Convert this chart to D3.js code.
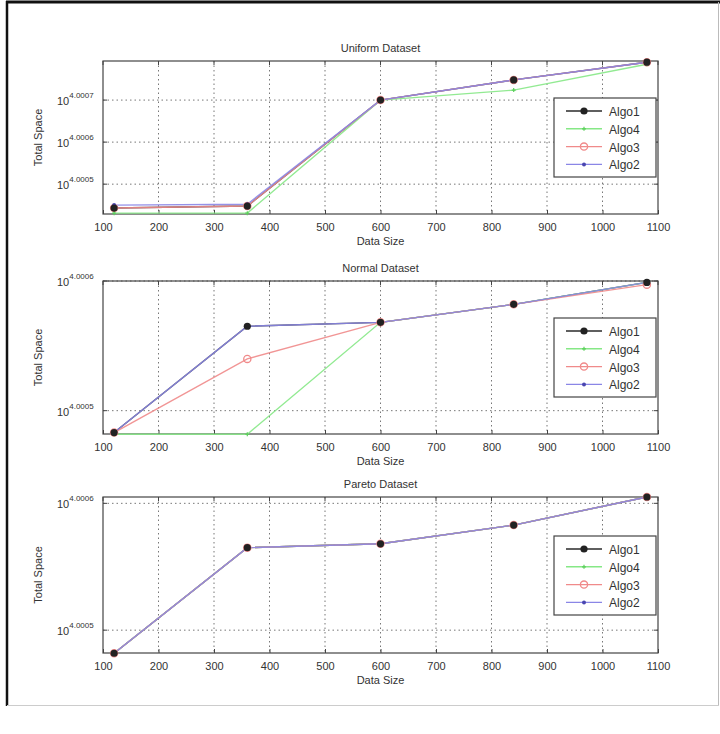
<!DOCTYPE html>
<html><head><meta charset="utf-8">
<script src="https://cdn.jsdelivr.net/npm/d3@7"></script>
<style>body{margin:0;background:#fff}svg{display:block}text{font-family:"Liberation Sans",Arial,sans-serif;fill:#333}</style>
</head><body><div id="c"></div>
<script>
// ---------- data ----------
const dataSizes = [120, 360, 600, 840, 1080];
const xTicks = [100,200,300,400,500,600,700,800,900,1000,1100];
const seriesNames = ["Algo1","Algo4","Algo3","Algo2"];
const panelTitles = ["Uniform Dataset","Normal Dataset","Pareto Dataset"];

// Uniform dataset (Total Space)
const uniformAlgo1 = [10010.21, 10010.32, 10016.13, 10017.24, 10018.21];
const uniformAlgo4 = [10009.93, 10009.93, 10016.13, 10016.68, 10018.10];
const uniformAlgo3 = [10010.21, 10010.32, 10016.13, 10017.24, 10018.21];
const uniformAlgo2 = [10010.37, 10010.42, 10016.13, 10017.24, 10018.21];
// Normal dataset
const normalAlgo1 = [10011.13, 10013.02, 10013.09, 10013.41, 10013.80];
const normalAlgo4 = [10011.10, 10011.10, 10013.09, 10013.41, 10013.80];
const normalAlgo3 = [10011.13, 10012.44, 10013.09, 10013.41, 10013.76];
const normalAlgo2 = [10011.13, 10013.02, 10013.09, 10013.41, 10013.80];
// Pareto dataset
const paretoAlgo1 = [10011.10, 10013.02, 10013.09, 10013.43, 10013.94];
const paretoAlgo4 = [10011.10, 10013.02, 10013.09, 10013.43, 10013.94];
const paretoAlgo3 = [10011.10, 10013.02, 10013.09, 10013.43, 10013.94];
const paretoAlgo2 = [10011.10, 10013.02, 10013.09, 10013.43, 10013.94];

// y tick exponents (labels 10^exp) and y-domain exponents per panel
const uniformYTicks = ["4.0005","4.0006","4.0007"];
const normalYTicks = ["4.0005","4.0006"];
const paretoYTicks = ["4.0005","4.0006"];
const uniformYDomainExp = [4.000429, 4.000793];
const normalYDomainExp = [4.000482, 4.0006];
const paretoYDomainExp = [4.000482, 4.000605];

// ---------- layout ----------
const W = 720, H = 734;
const L = 103, R = 658;
const panels = [
  {title: panelTitles[0], top: 61, bottom: 214, series: [uniformAlgo1, uniformAlgo4, uniformAlgo3, uniformAlgo2], ticks: uniformYTicks, dom: uniformYDomainExp, legTop: 98},
  {title: panelTitles[1], top: 281, bottom: 434, series: [normalAlgo1, normalAlgo4, normalAlgo3, normalAlgo2], ticks: normalYTicks, dom: normalYDomainExp, legTop: 318},
  {title: panelTitles[2], top: 497, bottom: 653, series: [paretoAlgo1, paretoAlgo4, paretoAlgo3, paretoAlgo2], ticks: paretoYTicks, dom: paretoYDomainExp, legTop: 536}
];
const colors = {"Algo1": "#2a2a2a", "Algo4": "#86e886", "Algo3": "#f08a8a", "Algo2": "#8a86e6"};

const svg = d3.select("#c").append("svg").attr("width", W).attr("height", H);
svg.append("rect").attr("width", W).attr("height", H).attr("fill", "#fff");

// frame
svg.append("line").attr("x1", 7).attr("x2", 7).attr("y1", 1).attr("y2", 706).attr("stroke", "#111").attr("stroke-width", 2.5);
svg.append("line").attr("x1", 6).attr("x2", 720).attr("y1", 2).attr("y2", 2).attr("stroke", "#111").attr("stroke-width", 3);
svg.append("line").attr("x1", 718.5).attr("x2", 718.5).attr("y1", 2).attr("y2", 706).attr("stroke", "#bbb").attr("stroke-width", 1);
svg.append("line").attr("x1", 7).attr("x2", 719).attr("y1", 705.5).attr("y2", 705.5).attr("stroke", "#ccc").attr("stroke-width", 1);

const x = d3.scaleLinear().domain([100, 1100]).range([L, R]);

function marker(g, name, cx, cy) {
  const c = colors[name];
  if (name === "Algo1") {
    g.append("circle").attr("cx", cx).attr("cy", cy).attr("r", 3.6).attr("fill", "#222");
  } else if (name === "Algo4") {
    g.append("path").attr("d", `M${cx-2},${cy}H${cx+2}M${cx},${cy-2}V${cy+2}`).attr("stroke", "#5ccf5c").attr("stroke-width", 1.2);
  } else if (name === "Algo3") {
    g.append("circle").attr("cx", cx).attr("cy", cy).attr("r", 3.6).attr("fill", "none").attr("stroke", c).attr("stroke-width", 1.3);
  } else {
    g.append("circle").attr("cx", cx).attr("cy", cy).attr("r", 2).attr("fill", "#4a46b0");
  }
}
const markerOrder = ["Algo3", "Algo4", "Algo2", "Algo1"];

panels.forEach(p => {
  const y = d3.scaleLog().domain([Math.pow(10, p.dom[0]), Math.pow(10, p.dom[1])]).range([p.bottom, p.top]);
  const g = svg.append("g");
  // grid
  const tickVals = p.ticks.map(t => Math.pow(10, +t));
  g.selectAll(".gx").data(xTicks.slice(1, -1)).enter().append("line")
    .attr("x1", d => x(d)).attr("x2", d => x(d)).attr("y1", p.top).attr("y2", p.bottom)
    .attr("stroke", "#777").attr("stroke-width", 1).attr("stroke-dasharray", "1.5,3");
  g.selectAll(".gy").data(tickVals).enter().append("line")
    .attr("x1", L).attr("x2", R).attr("y1", d => y(d)).attr("y2", d => y(d))
    .attr("stroke", "#777").attr("stroke-width", 1).attr("stroke-dasharray", "1.5,3");

  // x axis (bottom) using d3 axis, ticks inward
  const xa = g.append("g").attr("transform", `translate(0,${p.bottom})`)
    .call(d3.axisBottom(x).tickValues(xTicks).tickFormat(d3.format("d")).tickSizeInner(-4).tickSizeOuter(0).tickPadding(9));
  xa.select(".domain").remove();
  xa.selectAll("line").attr("stroke", "#444");
  xa.selectAll("text").attr("font-size", 11).attr("fill", "#333").style("font-family", "Liberation Sans, Arial, sans-serif");
  // top ticks
  g.selectAll(".tt").data(xTicks).enter().append("line")
    .attr("x1", d => x(d)).attr("x2", d => x(d)).attr("y1", p.top).attr("y2", p.top + 4).attr("stroke", "#444");
  // y ticks left/right
  g.selectAll(".yl").data(tickVals).enter().append("line")
    .attr("x1", L).attr("x2", L + 4).attr("y1", d => y(d)).attr("y2", d => y(d)).attr("stroke", "#444");
  g.selectAll(".yr").data(tickVals).enter().append("line")
    .attr("x1", R - 4).attr("x2", R).attr("y1", d => y(d)).attr("y2", d => y(d)).attr("stroke", "#444");
  // y tick labels 10^exp
  p.ticks.forEach(t => {
    const yy = y(Math.pow(10, +t));
    const tx = g.append("text").attr("x", 57).attr("y", yy + 5).attr("font-size", 11);
    tx.append("tspan").text("10");
    tx.append("tspan").attr("dy", -7).attr("font-size", 8).text(t);
  });

  // box
  g.append("rect").attr("x", L).attr("y", p.top).attr("width", R - L).attr("height", p.bottom - p.top)
    .attr("fill", "none").attr("stroke", "#444").attr("stroke-width", 1.2);

  // lines
  const line = d3.line().x((d, i) => x(dataSizes[i])).y(d => y(d));
  const clip = "clip" + p.top;
  svg.append("clipPath").attr("id", clip).append("rect").attr("x", L - 6).attr("y", p.top - 6).attr("width", R - L + 12).attr("height", p.bottom - p.top + 12);
  const lg = g.append("g").attr("clip-path", `url(#${clip})`);
  seriesNames.forEach((name, si) => {
    lg.append("path").datum(p.series[si]).attr("d", line).attr("fill", "none")
      .attr("stroke", colors[name]).attr("stroke-width", 1.4).attr("stroke-opacity", 0.9);
  });
  markerOrder.forEach(name => {
    const si = seriesNames.indexOf(name);
    p.series[si].forEach((v, i) => marker(lg, name, x(dataSizes[i]), y(v)));
  });

  // title and axis labels
  g.append("text").attr("x", (L + R) / 2).attr("y", p.top - 9).attr("text-anchor", "middle").attr("font-size", 11).text(p.title);
  g.append("text").attr("x", (L + R) / 2).attr("y", p.bottom + 31).attr("text-anchor", "middle").attr("font-size", 11).text("Data Size");
  g.append("text").attr("transform", `translate(42,${(p.top + p.bottom) / 2}) rotate(-90)`).attr("text-anchor", "middle").attr("font-size", 11).text("Total Space");

  // legend
  const lx = 554, lw = 102, lh = 79, lt = p.legTop;
  const leg = g.append("g");
  leg.append("rect").attr("x", lx).attr("y", lt).attr("width", lw).attr("height", lh).attr("fill", "#fff").attr("stroke", "#444").attr("stroke-width", 1.2);
  seriesNames.forEach((name, i) => {
    const ly = lt + 13 + i * 17.8;
    leg.append("line").attr("x1", lx + 12).attr("x2", lx + 48).attr("y1", ly).attr("y2", ly).attr("stroke", colors[name]).attr("stroke-width", 1.4);
    marker(leg, name, lx + 30, ly);
    leg.append("text").attr("x", lx + 55).attr("y", ly + 5).attr("font-size", 12).text(name);
  });
});
</script></body></html>
